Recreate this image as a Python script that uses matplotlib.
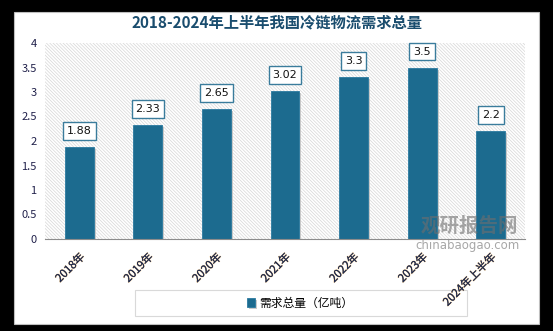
import matplotlib.pyplot as plt
import matplotlib.patheffects as pe
from matplotlib.patches import Rectangle

plt.rcParams["font.family"] = ["Noto Sans CJK SC", "DejaVu Sans"]
plt.rcParams["hatch.linewidth"] = 0.5

years = ["2018年", "2019年", "2020年", "2021年", "2022年", "2023年", "2024年上半年"]
demand = [1.88, 2.33, 2.65, 3.02, 3.3, 3.5, 2.2]
value_labels = ["1.88", "2.33", "2.65", "3.02", "3.3", "3.5", "2.2"]

bar_color = "#1c6b8f"
W, H = 553, 331

fig = plt.figure(figsize=(W / 100, H / 100), dpi=100, facecolor="black")

# white card on the black frame
fig.patches.append(Rectangle((14 / W, 7 / H), 525 / W, 312 / H,
                             transform=fig.transFigure, facecolor="white",
                             edgecolor="#bfbfbf", lw=0.8, zorder=0))

ax = fig.add_axes([45 / W, 92 / H, 480 / W, 196 / H])
ax.set_zorder(2)
ax.set_facecolor("white")
# diagonal striped plot background
ax.add_patch(Rectangle((0, 0), 1, 1, transform=ax.transAxes, facecolor="white",
                       edgecolor="#d6d6d6", lw=0, hatch="\\" * 10, zorder=0))

x = list(range(len(years)))
ax.bar(x, demand, width=0.42, color=bar_color, edgecolor="#2a7aa0", lw=0.6,
       zorder=3, label="需求总量（亿吨）",
       path_effects=[pe.SimplePatchShadow(offset=(1.5, -1.5), shadow_rgbFace="#bdbdbd", alpha=0.8), pe.Normal()])

for xi, v, s in zip(x, demand, value_labels):
    ax.annotate(s, (xi, v), xytext=(0, 11.5), textcoords="offset points",
                ha="center", va="center", fontsize=8, color="#111111",
                family="DejaVu Sans", zorder=5,
                bbox=dict(boxstyle="square,pad=0.35", facecolor="white",
                          edgecolor="#3a7c9c", lw=1.0))

ax.set_xlim(-0.5, 6.5)
ax.set_ylim(0, 4)
ax.set_yticks([0, 0.5, 1, 1.5, 2, 2.5, 3, 3.5, 4])
ax.set_yticklabels(["0", "0.5", "1", "1.5", "2", "2.5", "3", "3.5", "4"])
ax.set_xticks(x)
ax.set_xticklabels(years, rotation=45, ha="right", va="top",
                   rotation_mode="anchor", fontsize=8, color="#1f2a4d")
for lbl in ax.get_xticklabels():
    lbl.set_path_effects([pe.withStroke(linewidth=0.7, foreground="#f5d3a0"), pe.Normal()])
ax.tick_params(axis="both", length=0)
ax.tick_params(axis="y", labelsize=8, labelcolor="#20204a", pad=6)
ax.tick_params(axis="x", pad=9)
for side in ["top", "right", "left"]:
    ax.spines[side].set_visible(False)
ax.spines["bottom"].set_color("#8c8c8c")
ax.spines["bottom"].set_zorder(4)

fig.text(277 / W, 1 - 22 / H, "2018-2024年上半年我国冷链物流需求总量",
         ha="center", va="center", fontsize=11, fontweight="bold", color="#1a4d6e")

# watermark
fig.text(469 / W, 1 - 226 / H, "观研报告网", ha="center", va="center",
         fontsize=14, fontweight="bold", color="#6e6e6e", alpha=0.6, zorder=6)
fig.text(467 / W, 1 - 245 / H, "chinabaogao.com", ha="center", va="center",
         fontsize=8.5, family="DejaVu Sans", color="#8a8a8a", alpha=0.75, zorder=6)

# legend box
fig.patches.append(Rectangle((135 / W, 15 / H), 332 / W, 26 / H,
                             transform=fig.transFigure, facecolor="white",
                             edgecolor="#d9d9d9", lw=0.8, zorder=1))
fig.legend(loc="center", bbox_to_anchor=(300 / W, 28 / H), frameon=False,
           fontsize=8.5, handlelength=0.7, handleheight=0.7, handletextpad=0.4)

fig.savefig("out.png", dpi=100, facecolor=fig.get_facecolor())
